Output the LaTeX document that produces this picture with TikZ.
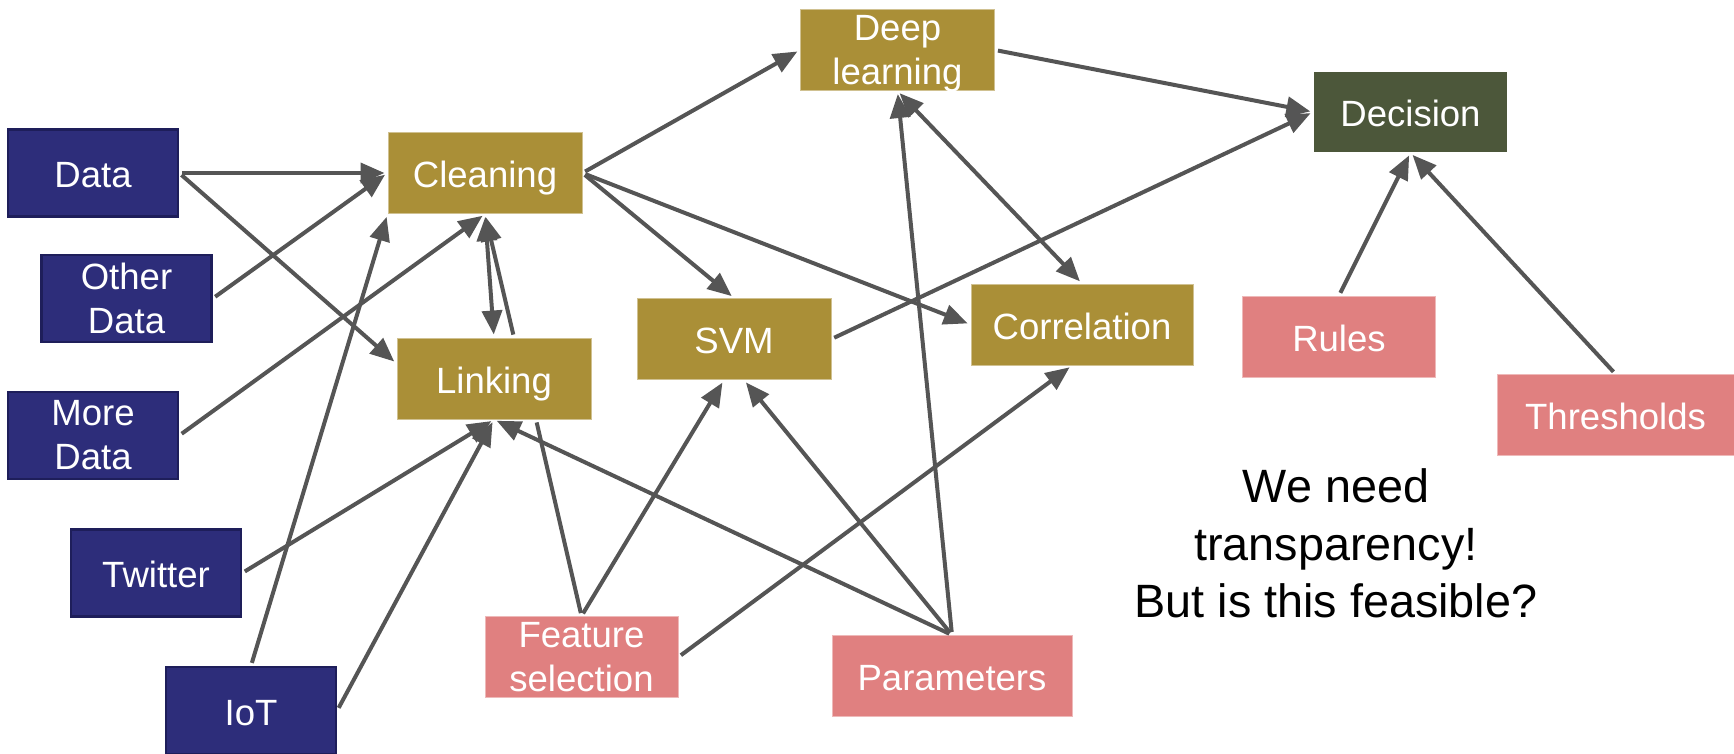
\documentclass[tikz,border=0pt]{standalone}
\usepackage{fontspec}
\setmainfont{Liberation Sans}
\usepackage{tikz}
\usetikzlibrary{positioning,shapes,arrows}
\usetikzlibrary{arrows.meta}
\definecolor{srcblue}{HTML}{2D2D7A}
\definecolor{srcedge}{HTML}{1E1E5A}
\definecolor{stagegold}{HTML}{AA8F37}
\definecolor{decgreen}{HTML}{4C573A}
\definecolor{setpink}{HTML}{E08080}
\definecolor{flowgray}{HTML}{555555}
\tikzstyle{box}=[rectangle, text centered, text=white, inner sep=0pt, align=center, text height=10.5pt, text depth=2.2pt, font=\fontsize{10.4}{12.5}\selectfont]
\tikzstyle{twolines}=[text height={}, text depth={}]
\tikzstyle{source}=[box, fill=srcblue, draw=srcedge, line width=0.25mm, minimum width=17mm, minimum height=8.7mm]
\tikzstyle{stage}=[box, fill=stagegold, draw=stagegold!55!white, line width=0.1mm, minimum width=19.4mm, minimum height=8.1mm]
\tikzstyle{decide}=[box, fill=decgreen, minimum width=19.3mm, minimum height=8mm]
\tikzstyle{setting}=[box, fill=setpink, draw=setpink!55!white, line width=0.1mm, minimum width=19.3mm, minimum height=8.1mm]
\tikzstyle{flow}=[draw=flowgray, line width=0.4mm, shorten >=0.3mm, shorten <=0.3mm]
\tikzset{>={Triangle[length=2.4mm,width=2mm]}}

\begin{document}
\begin{tikzpicture}[on grid]
    \useasboundingbox (0,0) rectangle (173.4mm,-75.3mm);

        \node(data)[source] at (9.3mm,-17.3mm) {Data};
        \node(other)[source, twolines, below right=12.55mm and 3.35mm of data]{Other\\Data};
        \node(more)[source, twolines, below=26.25mm of data]{More\\Data};
        \node(twitter)[source, below right=13.75mm and 6.3mm of more]{Twitter};
        \node(iot)[source, below right=13.75mm and 9.5mm of twitter]{IoT};

        \node(cleaning)[stage, right=39.2mm of data]{Cleaning};
        \node(linking)[stage, below right=20.55mm and 0.9mm of cleaning]{Linking};
        \node(svm)[stage, below right=16.6mm and 24.9mm of cleaning]{SVM};
        \node(deep)[stage, twolines, text depth=0pt, above right=12.3mm and 41.25mm of cleaning]{Deep\\learning};
        \node(correlation)[stage, minimum width=22.2mm, above right=1.45mm and 34.8mm of svm]{Correlation};

        \node(decision)[decide, below right=6.2mm and 51.3mm of deep]{Decision};
        \node(rules)[setting, below left=22.45mm and 7.15mm of decision]{Rules};
        \node(thresholds)[setting, minimum width=23.7mm, below right=7.85mm and 27.65mm of rules]{Thresholds};
        \node(feature)[setting, twolines, below right=27.85mm and 8.75mm of linking]{Feature\\selection};
        \node(params)[setting, minimum width=24mm, below right=1.9mm and 37.05mm of feature]{Parameters};

        \node(question)[below left=12.85mm and 27.95mm of thresholds, align=center, font=\fontsize{13.3}{16.3}\selectfont]{We need\\transparency!\\But is this feasible?};

        \draw [flow, ->] (data.east) -- (cleaning.west);
        \draw [flow, ->] (data.east) -- ([yshift=1.5mm]linking.west);
        \draw [flow, ->] (other.east) -- (cleaning.west);
        \draw [flow, ->] (more.east) -- (cleaning.south);
        \draw [flow, ->] (iot.north) -- (cleaning.south west);
        \draw [flow, <->] (cleaning.south) -- (linking.north);
        \draw [flow, ->] ([xshift=2mm]linking.north) -- (cleaning.south);
        \foreach \src in {twitter, iot}{
            \draw [flow, ->] (\src.east) -- (linking.south);
        };

        \draw [flow] (feature.north) -- ([xshift=4.2mm]linking.south);
        \draw [flow, ->] (feature.north) -- ([xshift=-1mm]svm.south);
        \draw [flow, ->] (feature.east) -- ([xshift=-1mm]correlation.south);
        \draw [flow, ->] (params.north) -- (linking.south);
        \draw [flow, ->] (params.north) -- ([xshift=1mm]svm.south);
        \draw [flow, ->] (params.north) -- (deep.south);
        \draw [flow, <->] (correlation.north) -- (deep.south);

        \draw [flow, ->] (cleaning.east) -- (deep.west);
        \draw [flow, ->] (cleaning.east) -- (svm.north);
        \draw [flow, ->] (cleaning.east) -- (correlation.west);
        \foreach \src in {deep, svm}{
            \draw [flow, ->] (\src.east) -- (decision.west);
        };
        \foreach \src in {rules, thresholds}{
            \draw [flow, ->] (\src.north) -- (decision.south);
        };

    \end{tikzpicture}
\end{document}
